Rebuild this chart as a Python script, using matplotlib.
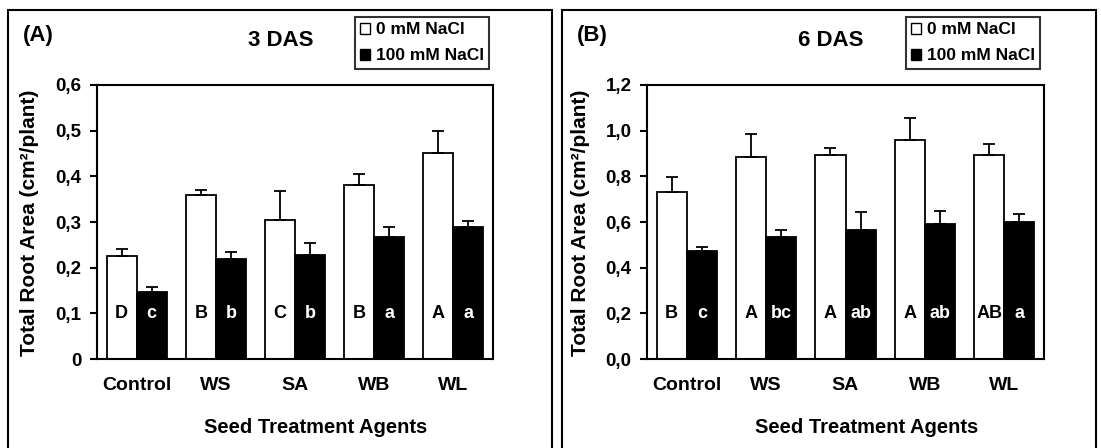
import matplotlib
matplotlib.use("Agg")
import matplotlib.pyplot as plt
import numpy as np
from matplotlib.patches import Rectangle, Patch
from matplotlib.ticker import FuncFormatter

plt.rcParams['font.family'] = ['Liberation Sans', 'DejaVu Sans']
plt.rcParams['font.weight'] = 'bold'

agents = ["Control", "WS", "SA", "WB", "WL"]

# 3 DAS
a_ctrl = [0.226, 0.359, 0.304, 0.382, 0.451]
a_ctrl_err = [0.015, 0.010, 0.064, 0.024, 0.048]
a_salt = [0.146, 0.218, 0.228, 0.268, 0.288]
a_salt_err = [0.012, 0.016, 0.026, 0.022, 0.015]
a_ctrl_let = ["D", "B", "C", "B", "A"]
a_salt_let = ["c", "b", "b", "a", "a"]

# 6 DAS
b_ctrl = [0.730, 0.883, 0.894, 0.959, 0.894]
b_ctrl_err = [0.066, 0.101, 0.029, 0.098, 0.048]
b_salt = [0.474, 0.536, 0.565, 0.590, 0.599]
b_salt_err = [0.016, 0.028, 0.079, 0.058, 0.037]
b_ctrl_let = ["B", "A", "A", "A", "AB"]
b_salt_let = ["c", "bc", "ab", "ab", "a"]

fig = plt.figure(figsize=(11.01, 4.48), dpi=100)
W, H = 1101, 448

def px_rect(x0, y0, x1, y1):
    return [x0 / W, 1 - y1 / H, (x1 - x0) / W, (y1 - y0) / H]

def panel(box, ax_rect, ctrl, ctrl_err, salt, salt_err, ctrl_let, salt_let,
          ymax, ystep, let_y, tag, title, zero_fmt):
    # outer frame of the panel
    fig.patches.append(Rectangle((box[0] / W, -0.1), (box[1] - box[0]) / W,
                                 1.1 - 10 / H, transform=fig.transFigure,
                                 fill=False, lw=1.5, ec='black'))
    ax = fig.add_axes(px_rect(*ax_rect))
    x = np.arange(len(agents))
    w = 0.38
    ax.bar(x - w / 2, ctrl, w, color='white', edgecolor='black', lw=1.3, zorder=2)
    ax.bar(x + w / 2, salt, w, color='black', edgecolor='black', lw=1.3, zorder=2)
    ax.errorbar(x - w / 2, ctrl, yerr=[np.zeros(5), ctrl_err], fmt='none',
                ecolor='black', elinewidth=1.3, capsize=4, capthick=1.3, zorder=3)
    ax.errorbar(x + w / 2, salt, yerr=[np.zeros(5), salt_err], fmt='none',
                ecolor='black', elinewidth=1.3, capsize=4, capthick=1.3, zorder=3)
    for i in range(len(agents)):
        ax.text(x[i] - w / 2, let_y, ctrl_let[i], ha='center', va='center',
                fontsize=13, fontweight='bold', color='black', zorder=4)
        ax.text(x[i] + w / 2, let_y, salt_let[i], ha='center', va='center',
                fontsize=13, fontweight='bold', color='white', zorder=4)
    ax.set_xlim(-0.5, 4.5)
    ax.set_ylim(0, ymax)
    ax.set_yticks(np.arange(0, ymax + 1e-9, ystep))
    ax.yaxis.set_major_formatter(FuncFormatter(
        lambda v, p: zero_fmt if abs(v) < 1e-9 else f"{v:.1f}".replace('.', ',')))
    ax.set_xticks(x)
    ax.set_xticklabels(agents)
    ax.tick_params(axis='x', length=0, pad=13, labelsize=14)
    ax.tick_params(axis='y', length=5, width=1.5, pad=6, labelsize=13.5)
    for s in ax.spines.values():
        s.set_linewidth(1.5)
    ax0 = ax_rect[0]
    fig.text((ax0 - 67) / W, 1 - 223 / H, "Total Root Area (cm²/plant)",
             rotation=90, ha='center', va='center', fontsize=15,
             fontweight='bold')
    cx = (ax_rect[0] + ax_rect[2]) / 2 + 21
    fig.text(cx / W, 1 - 427 / H, "Seed Treatment Agents", ha='center',
             va='center', fontsize=14.5, fontweight='bold')
    fig.text((box[0] + 15) / W, 1 - 35 / H, tag, ha='left', va='center',
             fontsize=16, fontweight='bold')
    fig.text((ax_rect[0] + 184) / W, 1 - 41 / H, title, ha='center',
             va='center', fontsize=16, fontweight='bold')
    handles = [Patch(facecolor='white', edgecolor='black', lw=1),
               Patch(facecolor='black', edgecolor='black', lw=1)]
    leg = fig.legend(handles, ["0 mM NaCl", "100 mM NaCl"],
                     loc='upper right',
                     bbox_to_anchor=((ax_rect[2] - 4) / W, 1 - 17 / H),
                     frameon=True, fancybox=False, edgecolor='black',
                     fontsize=12.5, handlelength=0.6, handleheight=0.6,
                     handletextpad=0.3, borderpad=0.3, labelspacing=0.65,
                     borderaxespad=0)
    leg.get_frame().set_linewidth(1.5)
    for t in leg.get_texts():
        t.set_fontweight('bold')
    return ax

panel((8, 552), (97, 85, 493, 359), a_ctrl, a_ctrl_err, a_salt, a_salt_err,
      a_ctrl_let, a_salt_let, 0.6, 0.1, 0.1, "(A)", "3 DAS", "0")
panel((562, 1096), (647, 85, 1044, 359), b_ctrl, b_ctrl_err, b_salt, b_salt_err,
      b_ctrl_let, b_salt_let, 1.2, 0.2, 0.2, "(B)", "6 DAS", "0,0")

fig.savefig("out.png", dpi=100)
